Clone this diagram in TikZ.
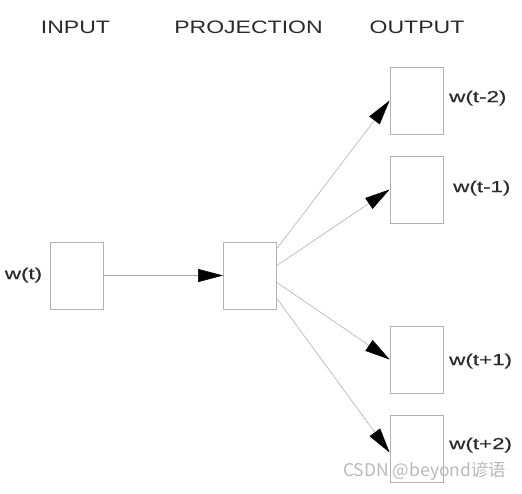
\documentclass[tikz,border=0pt]{standalone}
\usepackage{fontspec}
\usetikzlibrary{arrows.meta}
\usetikzlibrary{positioning}
\newfontfamily\headfont[FakeStretch=1.28]{Liberation Sans}
\newfontfamily\wordfont[FakeStretch=1.4,FakeBold=0.6]{Liberation Sans}
\newfontfamily\cjk{Noto Sans CJK SC}
\definecolor{txt}{HTML}{2A2A2A}

\begin{document}
\begin{tikzpicture}[x=1pt,y=-1pt,
  box/.style={draw=gray!60,line width=0.8pt,minimum width=53pt,minimum height=67pt,inner sep=0pt},
  head/.style={font=\headfont\fontsize{18}{18}\selectfont,text=txt,inner sep=0pt},
  word/.style={font=\wordfont\fontsize{16}{16}\selectfont,text=txt,inner sep=0pt,anchor=west},
  link/.style={draw=gray!70,line width=0.5pt,-{Triangle[length=25pt,width=13pt,black]}}]
\useasboundingbox (0,0) rectangle (522,493);

\node[head] (hin) at (75.5,27.5) {INPUT};
\node[head] (hproj) at (248.5,27.5) {PROJECTION};
\node[head] (hout) at (417,27.5) {OUTPUT};

\node[box] (in) at (76.5,275.5) {};
\node[box] (proj) at (250,275.5) {};
\node[box] (om2) at (416.5,100.5) {};
\node[box] (om1) at (416.5,189.5) {};
\node[box] (op1) at (416.5,359.5) {};
\node[box] (op2) at (416.5,448.5) {};

\node[word,anchor=center] (lin) at (23.5,275) {w(t)};
\node[word] (lm2) at (449,98) {w(t-2)};
\node[word] (lm1) at (453,188) {w(t-1)};
\node[word] (lp1) at (449,361) {w(t+1)};
\node[word] (lp2) at (449,445) {w(t+2)};

\path
(in.east) edge[link] (proj.west)
([yshift=27pt]proj.east) edge[link] (om2.west)
([yshift=10pt]proj.east) edge[link] (om1.west)
([yshift=-7pt]proj.east) edge[link] (op1.west)
([yshift=-23pt]proj.east) edge[link] ([yshift=-4pt]op2.west);

\node[font=\cjk\fontsize{17.5}{17.5}\selectfont,text=gray!55,inner sep=0pt,anchor=west] (mark) at (343,471) {CSDN @beyond谚语};
\end{tikzpicture}
\end{document}
